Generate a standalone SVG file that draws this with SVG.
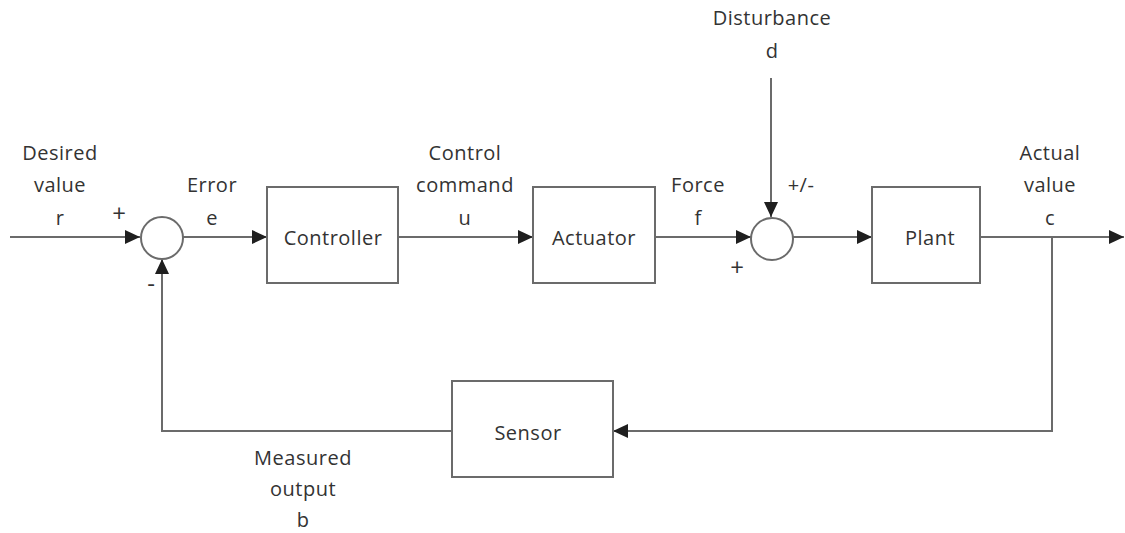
<svg xmlns="http://www.w3.org/2000/svg" width="1125" height="533" viewBox="0 0 1125 533">
<style>
.box{fill:#fff;stroke:#6b6b6b;stroke-width:2}
.ln{fill:none;stroke:#6b6b6b;stroke-width:2}
text{font-family:"Open Sans","Noto Sans",sans-serif;font-size:20px;letter-spacing:0.5px;fill:#333;text-anchor:middle}
.sg{font-size:24px;letter-spacing:0}
</style>
<defs>
<marker id="ah" markerWidth="16" markerHeight="14" refX="15" refY="7" orient="auto" markerUnits="userSpaceOnUse">
<path d="M0,0 L15,7 L0,14 Z" fill="#1f1f1f"/>
</marker>
</defs>
<rect width="1125" height="533" fill="#fff"/>
<g id="connectors">
<line class="ln" x1="10" y1="237" x2="140" y2="237" marker-end="url(#ah)"/>
<line class="ln" x1="183" y1="237" x2="267" y2="237" marker-end="url(#ah)"/>
<line class="ln" x1="398" y1="237" x2="533" y2="237" marker-end="url(#ah)"/>
<line class="ln" x1="655" y1="237" x2="751" y2="237" marker-end="url(#ah)"/>
<line class="ln" x1="771" y1="78" x2="771" y2="217" marker-end="url(#ah)"/>
<line class="ln" x1="793" y1="237" x2="872" y2="237" marker-end="url(#ah)"/>
<line class="ln" x1="980" y1="237" x2="1124" y2="237" marker-end="url(#ah)"/>
<polyline class="ln" points="1052,237 1052,431 613,431" marker-end="url(#ah)"/>
<polyline class="ln" points="452,431 162,431 162,259" marker-end="url(#ah)"/>
</g>
<g id="sum1"><circle class="box" cx="162" cy="238" r="21"/></g>
<g id="controller"><rect class="box" x="267" y="187" width="131" height="96"/><text x="333" y="245">Controller</text></g>
<g id="actuator"><rect class="box" x="533" y="187" width="122" height="96"/><text x="594" y="245">Actuator</text></g>
<g id="sum2"><circle class="box" cx="772" cy="239" r="21"/></g>
<g id="plant"><rect class="box" x="872" y="187" width="108" height="96"/><text x="930" y="245">Plant</text></g>
<g id="sensor"><rect class="box" x="452" y="381" width="161" height="96"/><text x="528" y="440">Sensor</text></g>
<g id="labels">
<text x="60" y="160">Desired</text><text x="60" y="192">value</text><text x="60" y="225">r</text>
<text class="sg" x="119" y="222">+</text>
<text class="sg" x="151" y="292">-</text>
<text x="212" y="192">Error</text><text x="212" y="225">e</text>
<text x="465" y="160">Control</text><text x="465" y="192">command</text><text x="465" y="225">u</text>
<text x="698" y="192">Force</text><text x="698" y="225">f</text>
<text class="sg" x="737" y="276">+</text>
<text x="801" y="192">+/-</text>
<text x="772" y="25">Disturbance</text><text x="772" y="58">d</text>
<text x="1050" y="160">Actual</text><text x="1050" y="192">value</text><text x="1050" y="225">c</text>
<text x="303" y="465">Measured</text><text x="303" y="496">output</text><text x="303" y="527">b</text>
</g>
</svg>
